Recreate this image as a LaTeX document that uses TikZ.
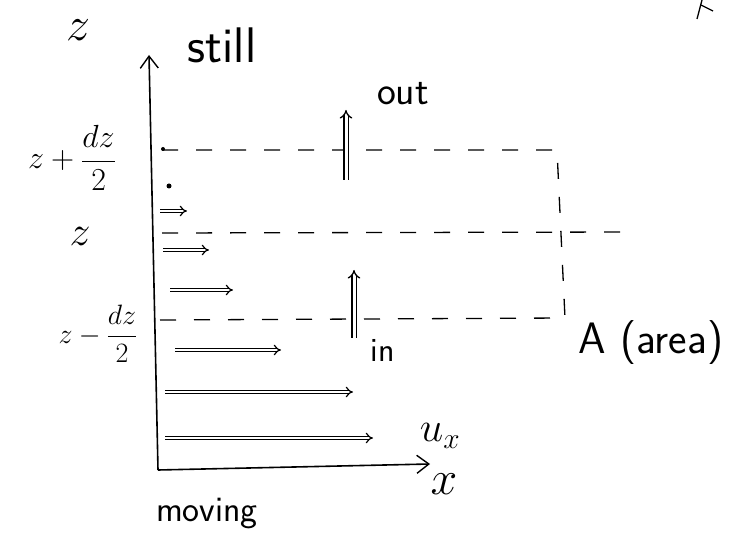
\RequirePackage{fix-cm}
\documentclass[tikz,border=0pt]{standalone}
\usetikzlibrary{arrows.meta}
\begin{document}
\begin{tikzpicture}[x=1pt,y=-1pt,
  axis/.style={line width=1.6pt,-{Straight Barb[length=12pt,width=18pt,line width=1.4pt]}},
  guide/.style={line width=1.3pt,dash pattern=on 16pt off 18pt},
  vel/.style={line width=1.2pt,double,double distance=2.4pt,-{Implies[length=12pt,width=14pt]}},
  flux/.style={line width=1.3pt,double,double distance=3pt,-{Implies[length=14pt,width=18pt]}},
  lbl/.style={font=\fontsize{40}{44}\selectfont\sffamily},
  mlbl/.style={font=\fontsize{42}{46}\selectfont}]
\useasboundingbox (0,0) rectangle (729,553);
% axes
\coordinate (O) at (158,470);
\coordinate (ztop) at (149,55);
\coordinate (xend) at (430,464);
\draw[axis] (O) -- (ztop);
\draw[axis] (O) -- (xend);
% dashed lines
\coordinate (t1) at (162,150); \coordinate (t2) at (557,150);
\coordinate (m1) at (162,233); \coordinate (m2) at (632,232);
\coordinate (b1) at (160,320); \coordinate (b2) at (565,318);
\draw[guide] (t1) -- (t2) -- (b2);
\draw[guide] (m1) -- (m2);
\draw[guide] (b1) -- (b2);
% velocity profile
\fill (163,149) circle (2pt);
\fill (169,186) circle (2.5pt);
\foreach \y/\a/\b in {211/160/187, 250/163/209, 290/170/233, 350/175/281, 392/165/353, 438/165/373}{
  \coordinate (s\y) at (\a,\y); \coordinate (e\y) at (\b,\y);
  \draw[vel] (s\y) -- (e\y);
}
% flux arrows
\coordinate (o1) at (346,180); \coordinate (o2) at (346,110);
\coordinate (i1) at (354,338); \coordinate (i2) at (354,270);
\draw[flux] (o1) -- (o2);
\draw[flux] (i1) -- (i2);
% labels
\node[mlbl,font=\fontsize{48}{52}\selectfont] (lz) at (78,30) {$z$};
\node[lbl,font=\fontsize{50}{54}\selectfont\sffamily] (still) at (222,45) {still};
\node[mlbl,font=\fontsize{32}{36}\selectfont,inner sep=1pt] (lzp) at (72,158) {$\displaystyle z+\frac{dz}{2}$};
\node[mlbl] (lzm) at (80,236) {$z$};
\node[mlbl,font=\fontsize{28}{32}\selectfont,inner sep=1pt] (lzn) at (98,334) {$\displaystyle z-\frac{dz}{2}$};
\node[lbl] (out) at (403,94) {out};
\node[lbl,font=\fontsize{34}{38}\selectfont\sffamily] (in) at (383,350) {in};
\node[font=\fontsize{44}{48}\selectfont\sffamily] (A) at (651,343) {A (area)};
\node[mlbl] (ux) at (440,436) {$u_x$};
\node[mlbl,font=\fontsize{48}{52}\selectfont] (lx) at (444,484) {$x$};
\node[lbl,font=\fontsize{36}{40}\selectfont\sffamily] (moving) at (207,514) {moving};
% cut-off mark at top right
\draw[line width=1.3pt] (697,19) -- (702,0);
\draw[line width=1.3pt] (701,5) -- (713,11);
\end{tikzpicture}
\end{document}
